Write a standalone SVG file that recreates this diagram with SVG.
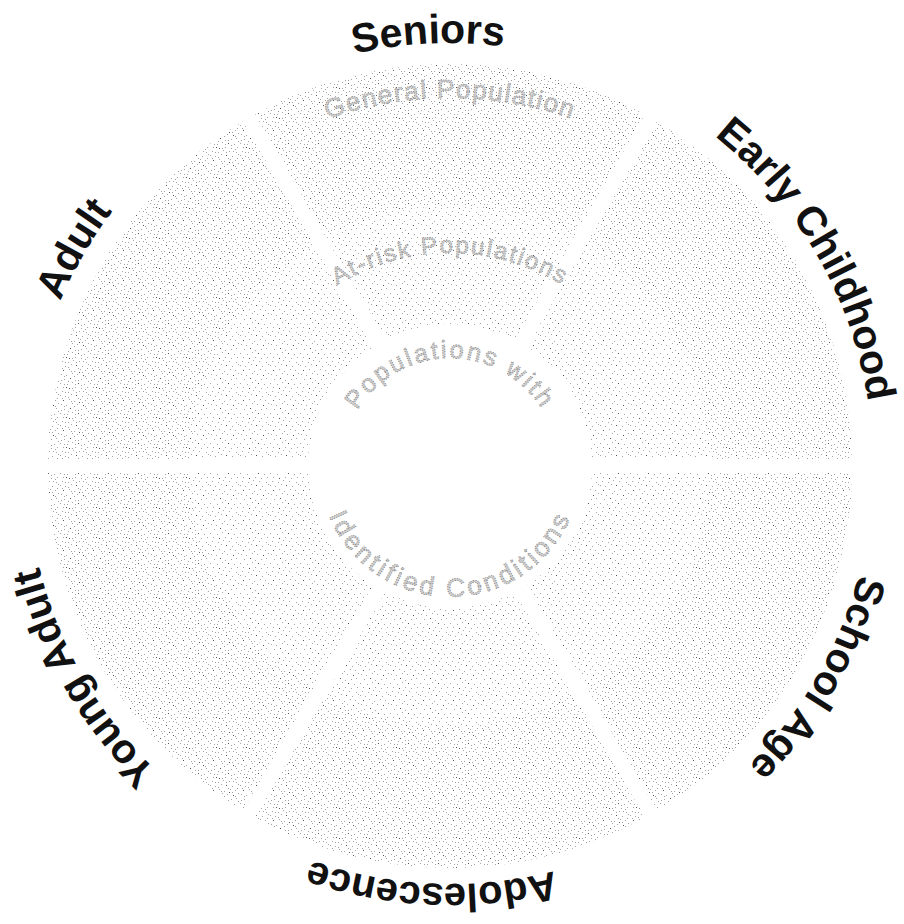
<svg xmlns="http://www.w3.org/2000/svg" xmlns:xlink="http://www.w3.org/1999/xlink" width="904" height="924" viewBox="0 0 904 924">
<defs>
<pattern id="dotsLight" patternUnits="userSpaceOnUse" width="30" height="30">
<path fill="#a6a6a6" d="M2 1h1v1h-1z M8 2h1v1h-1z M13 0h1v1h-1z M19 1h1v1h-1z M26 2h1v1h-1z M0 5h1v1h-1z M5 6h1v1h-1z M11 4h1v1h-1z M22 6h1v1h-1z M28 4h1v1h-1z M9 9h1v1h-1z M14 11h1v1h-1z M20 9h1v1h-1z M25 10h1v1h-1z M1 14h1v1h-1z M6 15h1v1h-1z M12 13h1v1h-1z M17 14h1v1h-1z M28 13h1v1h-1z M4 19h1v1h-1z M15 20h1v1h-1z M21 19h1v1h-1z M26 18h1v1h-1z M0 23h1v1h-1z M7 24h1v1h-1z M12 22h1v1h-1z M24 24h1v1h-1z M3 27h1v1h-1z M15 27h1v1h-1z M21 28h1v1h-1z M27 27h1v1h-1z"/>
<path fill="#555" d="M16 5h1v1h-1z M3 10h1v1h-1z M23 15h1v1h-1z M10 18h1v1h-1z M18 23h1v1h-1z M9 28h1v1h-1z"/>
</pattern>
<pattern id="dotsDense" patternUnits="userSpaceOnUse" width="30" height="30">
<rect width="30" height="30" fill="url(#dotsLight)"/>
<path fill="#a0a0a0" d="M5 2h1v1h-1z M16 2h1v1h-1z M23 1h1v1h-1z M2 8h1v1h-1z M8 7h1v1h-1z M18 8h1v1h-1z M27 8h1v1h-1z M11 11h1v1h-1z M22 12h1v1h-1z M4 16h1v1h-1z M14 16h1v1h-1z M25 16h1v1h-1z M1 20h1v1h-1z M8 21h1v1h-1z M18 20h1v1h-1z M28 21h1v1h-1z M4 24h1v1h-1z M15 24h1v1h-1z M21 25h1v1h-1z M12 28h1v1h-1z M25 29h1v1h-1z"/>
<path fill="#555" d="M19 12h1v1h-1z M6 27h1v1h-1z"/>
</pattern>
<path id="labelCircle" d="M 27 466 A 423 423 0 1 1 873 466 A 423 423 0 1 1 27 466"/>
<path id="labelCircleLow" d="M 32 466 A 418 418 0 1 1 868 466 A 418 418 0 1 1 32 466"/>
<path id="gpArc" d="M 82 466 A 368 368 0 0 1 818 466"/>
<path id="arArc" d="M 237 466 A 213 213 0 0 1 663 466"/>
<path id="pwArc" d="M 342 466 A 108 108 0 0 1 558 466"/>
<path id="icArc" d="M 319 466 A 131 131 0 0 0 581 466"/>
</defs>
<style>
.outer { fill: url(#dotsDense); }
.inner { fill: url(#dotsLight); }
.label { font-family: "Liberation Sans", Arial, sans-serif; font-weight: bold; font-size: 41px; fill: #111; }
.ring { font-family: "Liberation Sans", Arial, sans-serif; font-size: 25px; fill: #cfcfcf; stroke: #808080; stroke-width: 0.9; stroke-dasharray: 1 1.4; }
</style>
<rect width="904" height="924" fill="#fff"/>

<g id="seniors">
<path class="outer" d="M 255.09 114.41 A 402 402 0 0 1 644.91 114.41 L 573.89 237.42 A 260 260 0 0 0 326.11 237.42 Z"/>
<path class="inner" d="M 326.11 237.42 A 260 260 0 0 1 573.89 237.42 L 514.85 339.67 A 142 142 0 0 0 385.15 339.67 Z"/>
<text class="label"><textPath xlink:href="#labelCircle" href="#labelCircle" startOffset="24.2%" text-anchor="middle">Seniors</textPath></text>
</g>
<g id="early-childhood">
<path class="outer" d="M 657.03 121.41 A 402 402 0 0 1 851.94 459 L 709.91 459 A 260 260 0 0 0 586.01 244.42 Z"/>
<path class="inner" d="M 586.01 244.42 A 260 260 0 0 1 709.91 459 L 591.83 459 A 142 142 0 0 0 526.98 346.67 Z"/>
<text class="label"><textPath xlink:href="#labelCircle" href="#labelCircle" startOffset="41.667%" text-anchor="middle">Early Childhood</textPath></text>
</g>
<g id="school-age">
<path class="outer" d="M 851.94 473 A 402 402 0 0 1 657.03 810.59 L 586.01 687.58 A 260 260 0 0 0 709.91 473 Z"/>
<path class="inner" d="M 709.91 473 A 260 260 0 0 1 586.01 687.58 L 526.98 585.33 A 142 142 0 0 0 591.83 473 Z"/>
<text class="label"><textPath xlink:href="#labelCircle" href="#labelCircle" startOffset="58.333%" text-anchor="middle">School Age</textPath></text>
</g>
<g id="adolescence">
<path class="outer" d="M 644.91 817.59 A 402 402 0 0 1 255.09 817.59 L 326.11 694.58 A 260 260 0 0 0 573.89 694.58 Z"/>
<path class="inner" d="M 573.89 694.58 A 260 260 0 0 1 326.11 694.58 L 385.15 592.33 A 142 142 0 0 0 514.85 592.33 Z"/>
<text class="label" style="font-size:40px"><textPath xlink:href="#labelCircleLow" href="#labelCircleLow" startOffset="75.7%" text-anchor="middle">Adolescence</textPath></text>
</g>
<g id="young-adult">
<path class="outer" d="M 242.97 810.59 A 402 402 0 0 1 48.06 473 L 190.09 473 A 260 260 0 0 0 313.99 687.58 Z"/>
<path class="inner" d="M 313.99 687.58 A 260 260 0 0 1 190.09 473 L 308.17 473 A 142 142 0 0 0 373.02 585.33 Z"/>
<text class="label"><textPath xlink:href="#labelCircle" href="#labelCircle" startOffset="91.667%" text-anchor="middle">Young Adult</textPath></text>
</g>
<g id="adult">
<path class="outer" d="M 48.06 459 A 402 402 0 0 1 242.97 121.41 L 313.99 244.42 A 260 260 0 0 0 190.09 459 Z"/>
<path class="inner" d="M 190.09 459 A 260 260 0 0 1 313.99 244.42 L 373.02 346.67 A 142 142 0 0 0 308.17 459 Z"/>
<text class="label"><textPath xlink:href="#labelCircle" href="#labelCircle" startOffset="8.333%" text-anchor="middle">Adult</textPath></text>
</g>

<g id="ring-general-population">
<text class="ring" style="font-size:26px;letter-spacing:1.5px"><textPath xlink:href="#gpArc" href="#gpArc" startOffset="50%" text-anchor="middle">General Population</textPath></text>
</g>
<g id="ring-at-risk">
<text class="ring" style="font-size:24px;letter-spacing:2px"><textPath xlink:href="#arArc" href="#arArc" startOffset="50%" text-anchor="middle">At-risk Populations</textPath></text>
</g>
<g id="ring-identified">
<text class="ring" style="letter-spacing:2.5px"><textPath xlink:href="#pwArc" href="#pwArc" startOffset="50%" text-anchor="middle">Populations with</textPath></text>
<text class="ring" style="font-size:26px;letter-spacing:3.5px"><textPath xlink:href="#icArc" href="#icArc" startOffset="50%" text-anchor="middle">Identified Conditions</textPath></text>
</g>

<g id="connectors"/>
</svg>
